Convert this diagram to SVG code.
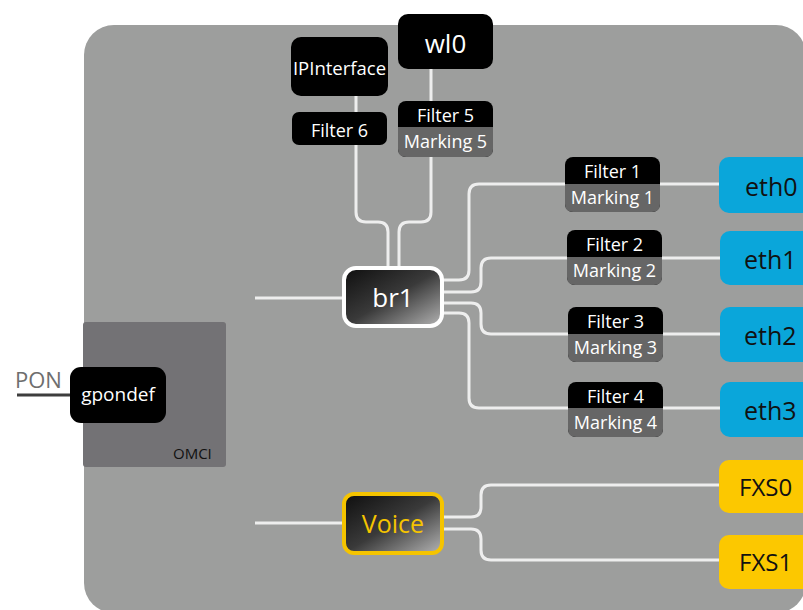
<svg xmlns="http://www.w3.org/2000/svg" width="803" height="610" viewBox="0 0 803 610">
<defs>
<linearGradient id="gr" x1="0" y1="0" x2="1" y2="1">
<stop offset="0" stop-color="#0e0e0e"/>
<stop offset="0.5" stop-color="#3a3a3a"/>
<stop offset="1" stop-color="#b4b4b4"/>
</linearGradient>
<style>
text{font-family:"Open Sans","DejaVu Sans",sans-serif;}
.w{fill:#ffffff;text-anchor:middle;}
.d{fill:#111111;}
.blk{fill:#000000;}
.mk{fill:#666666;}
.eth{fill:#0aa6da;}
.fxs{fill:#fcc800;}
.ln{fill:none;stroke:#eeeeee;stroke-width:3;}
</style>
</defs>
<rect x="84" y="25" width="722" height="588" rx="30" fill="#9d9e9d"/>
<g id="omci">
<rect x="83" y="322" width="143" height="145" rx="3" fill="#737275"/>
<text x="173" y="459" class="d" font-size="15">OMCI</text>
</g>
<g id="connectors">
<path class="ln" d="M356,96 V212 Q356,222 366,222 H378 Q388,222 388,232 V268"/>
<path class="ln" d="M431,69 V212 Q431,222 421,222 H409 Q399,222 399,232 V268"/>
<path class="ln" d="M255,298 H344"/>
<path class="ln" d="M442,280 H459 Q469,280 469,270 V194 Q469,184 479,184 H720"/>
<path class="ln" d="M442,292 H471 Q481,292 481,282 V268 Q481,258 491,258 H720"/>
<path class="ln" d="M442,303 H471 Q481,303 481,313 V324 Q481,334 491,334 H720"/>
<path class="ln" d="M442,313 H459 Q469,313 469,323 V398 Q469,408 479,408 H720"/>
<path class="ln" d="M255,523 H344"/>
<path class="ln" d="M442,517 H471 Q481,517 481,507 V495 Q481,485 491,485 H720"/>
<path class="ln" d="M442,529 H471 Q481,529 481,539 V550 Q481,560 491,560 H720"/>
<path d="M17,395 H72" stroke="#3d3d3d" stroke-width="3"/>
</g>
<g id="pon">
<text x="15" y="388" font-size="22" fill="#6e6e6e">PON</text>
</g>
<g id="gpondef">
<rect x="70" y="367" width="96" height="56" rx="11" class="blk"/>
<text x="118" y="401" class="w" font-size="19">gpondef</text>
</g>
<g id="ipinterface">
<rect x="291" y="37" width="97" height="59" rx="10" class="blk"/>
<text x="339.5" y="75" class="w" font-size="18.5">IPInterface</text>
</g>
<g id="wl0">
<rect x="398" y="14" width="95" height="55" rx="10" class="blk"/>
<text x="445.5" y="53" class="w" font-size="26">wl0</text>
</g>
<g id="filter6">
<rect x="292" y="112" width="95" height="33" rx="7" class="blk"/>
<text x="339.5" y="137" class="w" font-size="18">Filter 6</text>
</g>
<g id="filter5">
<rect x="398" y="101" width="95" height="56" rx="8" class="blk"/>
<path class="mk" d="M398,127 H493 V149 Q493,157 485,157 H406 Q398,157 398,149 Z"/>
<text x="445.5" y="122" class="w" font-size="18">Filter 5</text>
<text x="445.5" y="148" class="w" font-size="18">Marking 5</text>
</g>
<g id="br1">
<rect x="344" y="268" width="98" height="58" rx="12" fill="url(#gr)" stroke="#ffffff" stroke-width="4"/>
<text x="393" y="307" class="w" font-size="26">br1</text>
</g>
<g id="filter1">
<rect x="565" y="157" width="95" height="55" rx="8" class="blk"/>
<path class="mk" d="M565,184 H660 V204 Q660,212 652,212 H573 Q565,212 565,204 Z"/>
<text x="612.5" y="178" class="w" font-size="18">Filter 1</text>
<text x="612.5" y="204" class="w" font-size="18">Marking 1</text>
</g>
<g id="filter2">
<rect x="567" y="230" width="95" height="55" rx="8" class="blk"/>
<path class="mk" d="M567,257 H662 V277 Q662,285 654,285 H575 Q567,285 567,277 Z"/>
<text x="614.5" y="251" class="w" font-size="18">Filter 2</text>
<text x="614.5" y="277" class="w" font-size="18">Marking 2</text>
</g>
<g id="filter3">
<rect x="568" y="307" width="95" height="55" rx="8" class="blk"/>
<path class="mk" d="M568,334 H663 V354 Q663,362 655,362 H576 Q568,362 568,354 Z"/>
<text x="615.5" y="328" class="w" font-size="18">Filter 3</text>
<text x="615.5" y="354" class="w" font-size="18">Marking 3</text>
</g>
<g id="filter4">
<rect x="568" y="382" width="95" height="55" rx="8" class="blk"/>
<path class="mk" d="M568,408 H663 V429 Q663,437 655,437 H576 Q568,437 568,429 Z"/>
<text x="615.5" y="403" class="w" font-size="18">Filter 4</text>
<text x="615.5" y="429" class="w" font-size="18">Marking 4</text>
</g>
<g id="eth0">
<rect x="719" y="157" width="100" height="56" rx="10" class="eth"/>
<text x="745" y="196" class="d" font-size="25">eth0</text>
</g>
<g id="eth1">
<rect x="720" y="231" width="100" height="54" rx="10" class="eth"/>
<text x="744" y="269" class="d" font-size="25">eth1</text>
</g>
<g id="eth2">
<rect x="720" y="307" width="100" height="55" rx="10" class="eth"/>
<text x="744" y="345" class="d" font-size="25">eth2</text>
</g>
<g id="eth3">
<rect x="720" y="382" width="100" height="55" rx="10" class="eth"/>
<text x="744" y="420" class="d" font-size="25">eth3</text>
</g>
<g id="voice">
<rect x="344" y="494" width="98" height="59" rx="10" fill="url(#gr)" stroke="#f5c400" stroke-width="4"/>
<text x="393" y="533" font-size="25" fill="#f5c400" text-anchor="middle">Voice</text>
</g>
<g id="fxs0">
<rect x="719" y="460" width="100" height="53" rx="10" class="fxs"/>
<text x="739" y="496" class="d" font-size="24">FXS0</text>
</g>
<g id="fxs1">
<rect x="719" y="535" width="100" height="54" rx="10" class="fxs"/>
<text x="739" y="571" class="d" font-size="24">FXS1</text>
</g>
</svg>
